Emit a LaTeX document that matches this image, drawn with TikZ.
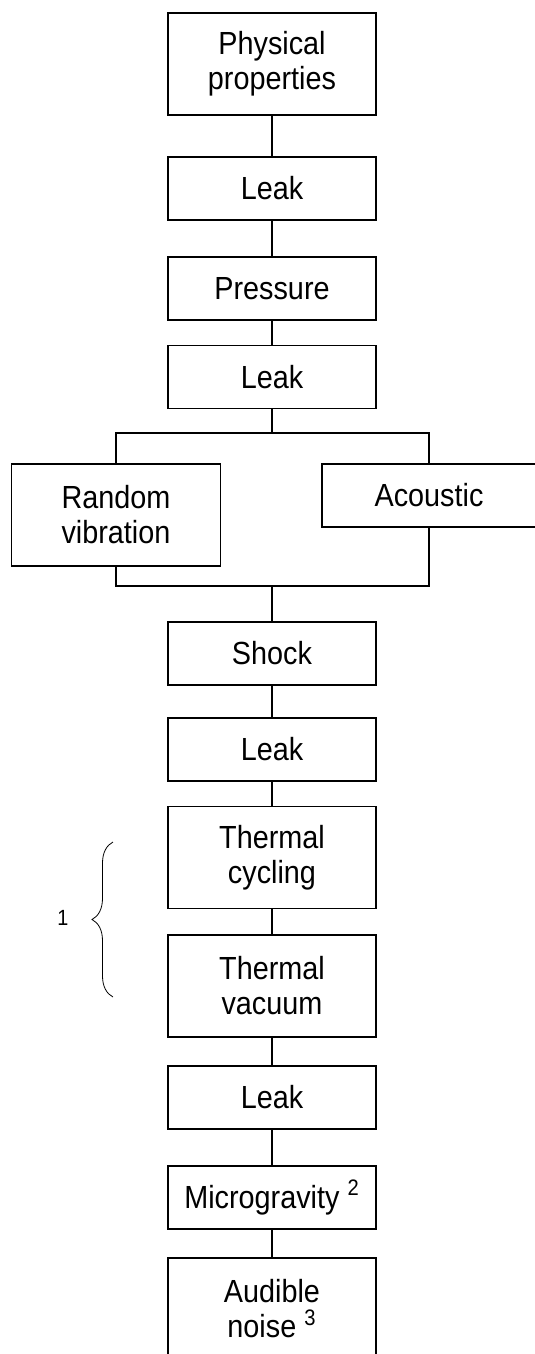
\documentclass[tikz,border=0pt]{standalone}
\usepackage{fontspec}
\setmainfont{Liberation Sans}[FakeStretch=0.9]
\usetikzlibrary{decorations.pathreplacing}

\tikzset{
    stage/.style={draw, line width=0.75pt, minimum width=104pt, inner sep=0pt,
        align=center, font=\fontsize{16}{17.5}\selectfont},
    stageone/.style={stage, minimum height=31.5pt},
    stagetwo/.style={stage, minimum height=51pt},
    link/.style={line width=0.75pt}
}

\begin{document}
\begin{tikzpicture}[x=0.5pt, y=-0.5pt]

% Frame
\useasboundingbox (0,0) rectangle (535,1354);
\clip (0,0) rectangle (535,1354);

% Stages
\node[stagetwo] (phys) at (272,64) {Physical\\properties};
\node[stageone] (leaka) at (272,188.5) {Leak};
\node[stageone] (press) at (272,288.5) {Pressure};
\node[stageone] (leakb) at (272,377) {Leak};
\node[stagetwo, minimum width=104.5pt] (randvib) at (116,515) {Random\\vibration};
\node[stageone, minimum width=107pt] (acoustic) at (429,495.5) {Acoustic};
\node[stageone] (shock) at (272,653.5) {Shock};
\node[stageone] (leakc) at (272,749.5) {Leak};
\node[stagetwo] (thcyc) at (272,857.5) {Thermal\\cycling};
\node[stagetwo] (thvac) at (272,986) {Thermal\\vacuum};
\node[stageone] (leakd) at (272,1097.5) {Leak};
\node[stageone] (micro) at (272,1197.5) {Microgravity \textsuperscript{2}};
\node[stagetwo] (noise) at (272,1309) {Audible\\noise \textsuperscript{3}};

% Branch points
\coordinate (split) at (272,433);
\coordinate (join) at (272,586);

% Connectors
\draw[link] (phys) -- (leaka);
\draw[link] (leaka) -- (press);
\draw[link] (press) -- (leakb);
\draw[link] (leakb) -- (split);
\draw[link] (randvib.north) |- (split) -| (acoustic.north);
\draw[link] (randvib.south) |- (join) -| (acoustic.south);
\draw[link] (join) -- (shock);
\draw[link] (shock) -- (leakc);
\draw[link] (leakc) -- (thcyc);
\draw[link] (thcyc) -- (thvac);
\draw[link] (thvac) -- (leakd);
\draw[link] (leakd) -- (micro);
\draw[link] (micro) -- (noise);

% Thermal group
\draw[line width=0.4pt, decorate, decoration={brace, amplitude=10.5pt}]
    (113,997) -- (113,842);
\node[font=\fontsize{11}{11}\selectfont] (note) at (63,918) {1};

\end{tikzpicture}
\end{document}
